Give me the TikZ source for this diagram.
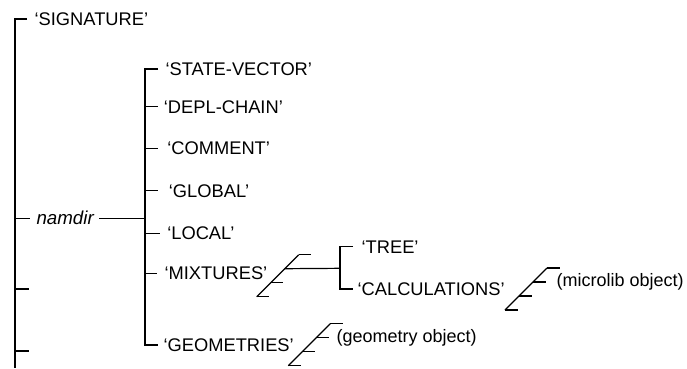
\documentclass[tikz,border=0pt]{standalone}
\usepackage{fontspec}
\setmainfont{Liberation Sans}
\begin{document}
\begin{tikzpicture}[x=1pt,y=-1pt,line width=1.2pt,
  lbl/.style={anchor=west,inner sep=0pt,text height=13pt,text depth=0pt,font=\fontsize{18.3}{22}\selectfont},
  stack/.pic={
    \draw (0,0) -- (42,-42);
    \draw (0,0) -- (12.5,0);
    \draw (14,-14) -- (26.5,-14);
    \draw (28,-28) -- (40.5,-28);
    \draw (42,-42) -- (54.5,-42);
    \coordinate (-c) at (28,-28);
  }]
\useasboundingbox (0,0) rectangle (687,368);

% text nodes
\node[lbl] (sig) at (34,19) {‘SIGNATURE’};
\node[lbl,font=\fontsize{18.7}{22}\selectfont\itshape] (nam) at (36,218.3) {namdir};
\node[lbl] (sv) at (165,69) {‘STATE-VECTOR’};
\node[lbl] (dc) at (163.3,106.5) {‘DEPL-CHAIN’};
\node[lbl] (cm) at (166.7,148.3) {‘COMMENT’};
\node[lbl] (gl) at (168.3,190.7) {‘GLOBAL’};
\node[lbl] (lc) at (166.7,233.3) {‘LOCAL’};
\node[lbl] (mx) at (164,273.3) {‘MIXTURES’};
\node[lbl] (ge) at (163,345) {‘GEOMETRIES’};
\node[lbl] (tr) at (361,246.5) {‘TREE’};
\node[lbl] (ca) at (357,289) {‘CALCULATIONS’};
\node[lbl,font=\fontsize{18}{22}\selectfont] (go) at (336,336) {(geometry object)};
\node[lbl,font=\fontsize{18}{22}\selectfont] (mo) at (556,280) {(microlib object)};

% coordinates
\coordinate (v1) at (15,19);
\coordinate (v1b) at (15,368);
\coordinate (v2) at (145,69);
\coordinate (v2b) at (145,345);
\coordinate (e3) at (29,289);
\coordinate (e4) at (29,351);
\coordinate (br) at (340,268.3);

% left trunk
\draw ([xshift=-7pt]sig.west) -- (v1) -- (v1b);
\draw (v1 |- nam.west) -- ([xshift=-6pt]nam.west);
\draw (v1 |- e3) -- (e3);
\draw (v1 |- e4) -- (e4);
\draw ([xshift=5pt]nam.east) -- (v2 |- nam.east);

% second trunk
\draw ([xshift=-7pt]sv.west) -- (v2) -- (v2b) -- ([xshift=-5.5pt]ge.west);
\draw (v2 |- dc.west) -- ([xshift=-5.5pt]dc.west);
\draw (v2 |- cm.west) -- ([xshift=-9.2pt]cm.west);
\draw (v2 |- gl.west) -- ([xshift=-10.8pt]gl.west);
\draw (v2 |- lc.west) -- ([xshift=-6.7pt]lc.west);
\draw (v2 |- mx.west) -- ([xshift=-6.7pt]mx.west);

% list symbols
\pic (s1) at (256.7,296.7) {stack};
\pic (s2) at (288.3,365.7) {stack};
\pic (s3) at (505,310) {stack};

% mixtures branch
\draw (s1-c) -- (br);
\draw ([xshift=-8pt]tr.west) -- (br |- tr.west) -- (br |- ca.west) -- ([xshift=-4pt]ca.west);
\end{tikzpicture}
\end{document}
